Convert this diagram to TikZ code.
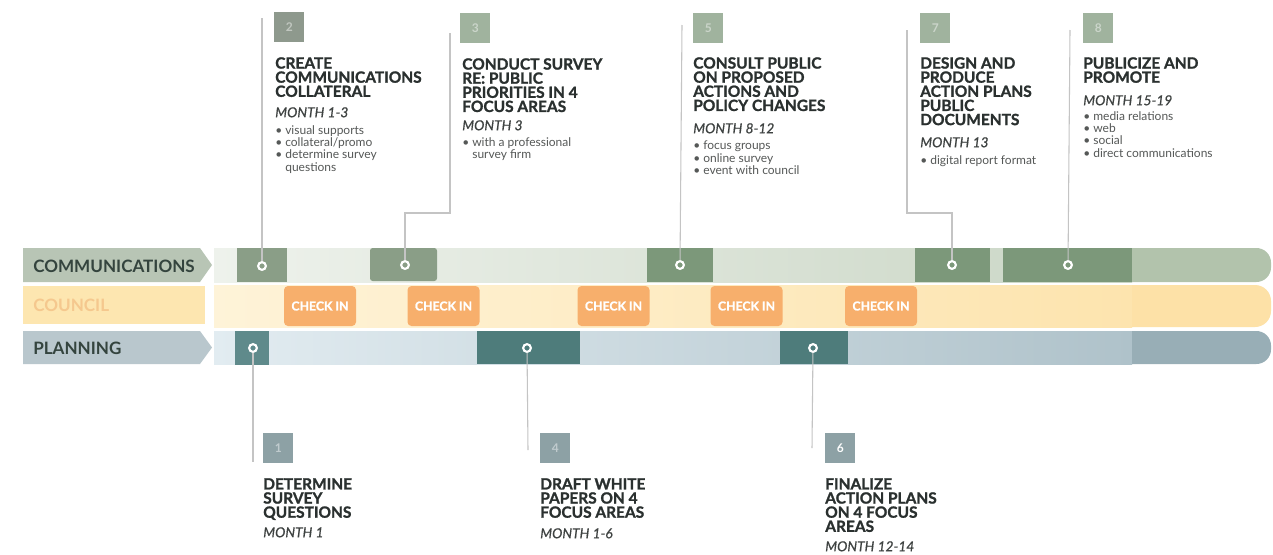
\documentclass[tikz,border=0pt]{standalone}
\usepackage{fontspec}
\setmainfont{Lato}
\newfontfamily\heavyfont{Lato}[BoldFeatures={FakeBold=1.3}]
\newfontfamily\monfont{Lato}[ItalicFeatures={FakeBold=0.6}]
\definecolor{commL}{HTML}{EEF2EC}
\definecolor{commR}{HTML}{CAD6C5}
\definecolor{commE}{HTML}{B2C3AC}
\definecolor{counL}{HTML}{FEF3D8}
\definecolor{counR}{HTML}{FDE4AE}
\definecolor{counE}{HTML}{FDE1A7}
\definecolor{planL}{HTML}{E2ECF1}
\definecolor{planR}{HTML}{AFC2CA}
\definecolor{planE}{HTML}{98AEB6}
\definecolor{commLab}{HTML}{B8C5B5}
\definecolor{counLab}{HTML}{FDE6B0}
\definecolor{planLab}{HTML}{B9C7CD}
\definecolor{labtxt}{HTML}{34443E}
\definecolor{countxt}{HTML}{F5C88E}
\definecolor{cboxA}{HTML}{8A9E87}
\definecolor{cboxB}{HTML}{7C987A}
\definecolor{pboxA}{HTML}{5F8A8B}
\definecolor{pboxB}{HTML}{4E7C7B}
\definecolor{chk}{HTML}{F7AF6C}
\definecolor{conn}{HTML}{C4C4C4}
\definecolor{titlec}{HTML}{2A302F}
\definecolor{monthc}{HTML}{3E4241}
\definecolor{bulc}{HTML}{555857}
\definecolor{numA}{HTML}{8E998D}
\definecolor{numB}{HTML}{A0B39E}
\definecolor{numP}{HTML}{8DA1A5}
\begin{document}
\begin{tikzpicture}[x=0.75pt,y=-0.75pt,
  lanelab/.style={anchor=west, inner sep=0, font=\bfseries\fontsize{12.8}{12.8}\selectfont, text=labtxt},
  ring/.style={circle, draw=white, line width=1.6pt, minimum size=5.8pt, inner sep=0},
  chkbox/.style={rectangle, rounded corners=3pt, fill=chk, text=white, font=\heavyfont\bfseries\fontsize{9.2}{9.2}\selectfont, minimum width=54pt, minimum height=30pt, inner sep=0},
  connector/.style={draw=conn, line width=0.8pt},
  numbox/.style={anchor=north west, rectangle, minimum size=22.5pt, inner sep=0, font=\bfseries\fontsize{9}{9}\selectfont},
  ttl/.style={anchor=north west, inner sep=0, align=left, font=\heavyfont\bfseries\fontsize{11.6}{10.6}\selectfont, text=titlec},
  mon/.style={anchor=north west, inner sep=0, font=\monfont\itshape\fontsize{10.3}{10.3}\selectfont, text=monthc},
  bul/.style={anchor=north west, inner sep=0, align=left, font=\fontsize{9}{9.3}\selectfont, text=bulc}]
\useasboundingbox (0,0) rectangle (1273,554);
\fill[white] (0,0) rectangle (1273,554);
% lanes
\shade[left color=commL, right color=commR] (214,248) rectangle (1132,282);
\fill[commE] (1132,248) [rounded corners=11pt] -- (1271,248) -- (1271,282) [sharp corners] -- (1132,282) -- cycle;
\shade[left color=counL, right color=counR] (214,285) rectangle (1132,327);
\fill[counE] (1132,285) [rounded corners=12pt] -- (1271,285) -- (1271,327) [sharp corners] -- (1132,327) -- cycle;
\shade[left color=planL, right color=planR] (214,331) rectangle (1132,364);
\fill[planE] (1132,331) [rounded corners=11pt] -- (1271,331) -- (1271,364) [sharp corners] -- (1132,364) -- cycle;
% lane labels
\fill[commLab] (23,248) -- (200,248) -- (212,265) -- (200,282) -- (23,282) -- cycle;
\fill[counLab] (23,286) rectangle (205,324);
\fill[planLab] (23,331) -- (200,331) -- (212,347.5) -- (200,364) -- (23,364) -- cycle;
\node[lanelab] (lcomm) at (33,266) {COMMUNICATIONS};
\node[lanelab, text=countxt] (lcoun) at (33,305) {COUNCIL};
\node[lanelab] (lplan) at (33,348) {PLANNING};
% communications boxes
\fill[cboxA] (237,248) rectangle (287,282);
\fill[cboxA, rounded corners=2pt] (370,248) rectangle (437,281);
\fill[cboxB] (647,248) rectangle (713,282);
\fill[cboxB] (915,248) rectangle (990,282);
\fill[cboxB] (1003,248) rectangle (1132,282);
% planning boxes
\fill[pboxA] (235,331) rectangle (269,365);
\fill[pboxB] (477,331) rectangle (580,364);
\fill[pboxB] (780,331) rectangle (848,364);
% check-ins
\node[chkbox] (ch1) at (320,306) {CHECK IN};
\node[chkbox] (ch2) at (443.5,306) {CHECK IN};
\node[chkbox] (ch3) at (613.5,306) {CHECK IN};
\node[chkbox] (ch4) at (746.5,306) {CHECK IN};
\node[chkbox] (ch5) at (881,306) {CHECK IN};
% connector end points
\coordinate (t2) at (262,18);
\coordinate (j3) at (450,213);
\coordinate (t3) at (450,33);
\coordinate (t5) at (682,25);
\coordinate (j7) at (907,213);
\coordinate (t7) at (907,30);
\coordinate (t8) at (1070,30);
\coordinate (u1) at (253,462);
\coordinate (u4) at (528,450);
\coordinate (u6) at (812,448);
% rings
\node[ring, fill=cboxA] (k2) at (262,266) {};
\node[ring, fill=cboxA] (k3) at (405,265) {};
\node[ring, fill=cboxB] (k5) at (680,265) {};
\node[ring, fill=cboxB] (k7) at (952,265) {};
\node[ring, fill=cboxB] (k8) at (1068,265) {};
\node[ring, fill=pboxA] (p1) at (253,348) {};
\node[ring, fill=pboxB] (p4) at (527,348) {};
\node[ring, fill=pboxB] (p6) at (813,348) {};
% connectors
\draw[connector] (k2) -- (t2);
\draw[connector] (k3) |- (j3) -- (t3);
\draw[connector] (k5) -- (t5);
\draw[connector] (k7) |- (j7) -- (t7);
\draw[connector] (k8) -- (t8);
\draw[connector] (p1) -- (u1);
\draw[connector] (p4) -- (u4);
\draw[connector] (p6) -- (u6);
% number boxes
\node[numbox, fill=numA, text=numA!55!white] (n2) at (274,12) {2};
\node[numbox, fill=numB, text=numB!55!white] (n3) at (460,13) {3};
\node[numbox, fill=numB, text=numB!55!white] (n5) at (693,13) {5};
\node[numbox, fill=numB, text=numB!55!white] (n7) at (920,13) {7};
\node[numbox, fill=numB, text=numB!55!white] (n8) at (1083,13) {8};
\node[numbox, fill=numP, text=numP!55!white] (n1) at (263,433) {1};
\node[numbox, fill=numP, text=numP!55!white] (n4) at (540,433) {4};
\node[numbox, fill=numP, text=white] (n6) at (825,433) {6};
% item 2
\node[ttl] (ti2) at (275,57) {CREATE\\COMMUNICATIONS\\COLLATERAL};
\node[mon] (mo2) at (275,107) {MONTH 1-3};
\node[bul] (bu2) at (275,125) {• visual supports\\• collateral/promo\\• determine survey\\\phantom{• }questions};
% item 3
\node[ttl] (ti3) at (462,58) {CONDUCT SURVEY\\RE: PUBLIC\\PRIORITIES IN 4\\FOCUS AREAS};
\node[mon] (mo3) at (462,120) {MONTH 3};
\node[bul] (bu3) at (462,137) {• with a professional\\\phantom{• }survey firm};
% item 5
\node[ttl] (ti5) at (693,57) {CONSULT PUBLIC\\ON PROPOSED\\ACTIONS AND\\POLICY CHANGES};
\node[mon] (mo5) at (693,123) {MONTH 8-12};
\node[bul] (bu5) at (693,141) {• focus groups\\• online survey\\• event with council};
% item 7
\node[ttl] (ti7) at (920,57) {DESIGN AND\\PRODUCE\\ACTION PLANS\\PUBLIC\\DOCUMENTS};
\node[mon] (mo7) at (920,137) {MONTH 13};
\node[bul] (bu7) at (920,155) {• digital report format};
% item 8
\node[ttl] (ti8) at (1083,57) {PUBLICIZE AND\\PROMOTE};
\node[mon] (mo8) at (1083,95) {MONTH 15-19};
\node[bul] (bu8) at (1083,111) {• media relations\\• web\\• social\\• direct communications};
% bottom items
\node[ttl] (ti1) at (263,478) {DETERMINE\\SURVEY\\QUESTIONS};
\node[mon] (mo1) at (263,527) {MONTH 1};
\node[ttl] (ti4) at (540,478) {DRAFT WHITE\\PAPERS ON 4\\FOCUS AREAS};
\node[mon] (mo4) at (540,528) {MONTH 1-6};
\node[ttl] (ti6) at (825,478) {FINALIZE\\ACTION PLANS\\ON 4 FOCUS\\AREAS};
\node[mon] (mo6) at (825,541) {MONTH 12-14};
\end{tikzpicture}
\end{document}
